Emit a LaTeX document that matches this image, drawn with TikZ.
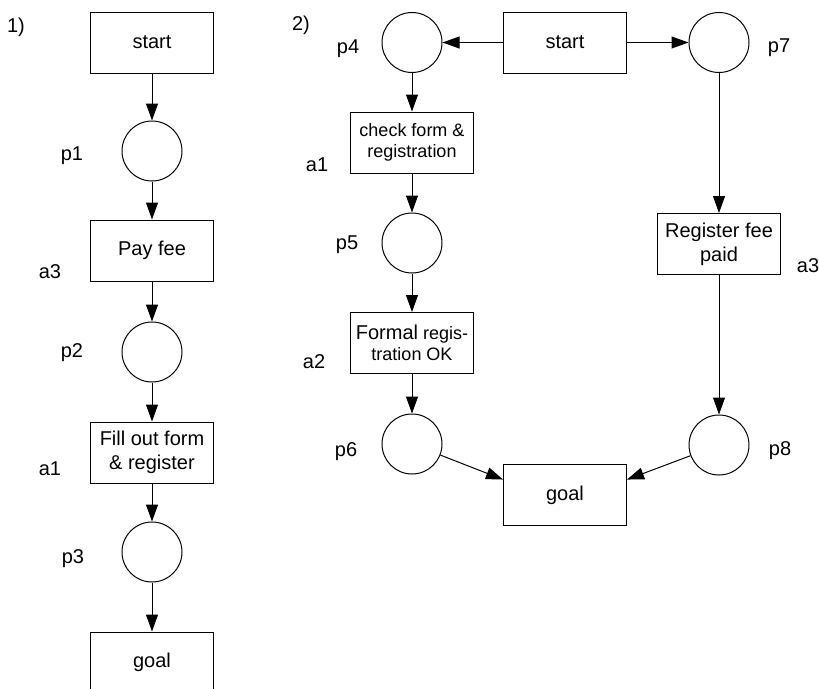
\documentclass[tikz,border=0pt]{standalone}
\usepackage{fontspec}
\setmainfont{Liberation Sans}
\usetikzlibrary{arrows.meta}
\begin{document}
\begin{tikzpicture}[x=1pt,y=-1pt,
  every node/.style={font=\fontsize{20}{24}\selectfont},
  trans/.style={draw,rectangle,minimum width=123pt,minimum height=61pt,
    inner sep=0pt,align=center,line width=1pt},
  small/.style={font=\fontsize{18}{21}\selectfont},
  place/.style={draw,circle,minimum size=60pt,inner sep=0pt,line width=1pt},
  arc/.style={line width=1pt,-{Triangle[length=17pt,width=12pt]}},
  lbl/.style={inner sep=0pt}]
\path[use as bounding box] (0,0) rectangle (819,688);
\clip (0,0) rectangle (819,688);

% ---- net 1: sequential process ----
\node[lbl] (n1) at (16,27) {1)};
\node[trans] (s1) at (152,42.5) {start};
\node[place] (p1) at (152,151) {};
\node[trans] (t3) at (152,250.5) {Pay fee};
\node[place] (p2) at (152,352) {};
\node[trans] (t1) at (152,452.5) {Fill out form\\\& register};
\node[place] (p3) at (152,552) {};
\node[trans] (g1) at (152,662.5) {goal};

\node[lbl] (lp1) at (72,156) {p1};
\node[lbl] (la3) at (50,272) {a3};
\node[lbl] (lp2) at (72,353) {p2};
\node[lbl] (la1) at (50,469) {a1};
\node[lbl] (lp3) at (73,559) {p3};

\draw[arc] (s1) -- (p1);
\draw[arc] (p1) -- (t3);
\draw[arc] (t3) -- (p2);
\draw[arc] (p2) -- (t1);
\draw[arc] (t1) -- (p3);
\draw[arc] (p3) -- (g1);

% ---- net 2: parallel process ----
\node[lbl] (n2) at (301,25) {2)};
\node[trans] (s2) at (565,42.5) {start};
\node[place] (p4) at (412,42.5) {};
\node[place] (p7) at (719,42.5) {};
\node[trans,small] (u1) at (412,142.5) {check form \&\\registration};
\node[place] (p5) at (412,243) {};
\node[trans,small] (u2) at (412,343) {{\fontsize{20}{21}\selectfont Formal} regis-\\tration OK};
\node[place] (p6) at (412,444) {};
\node[trans] (u3) at (719,244) {Register fee\\paid};
\node[place] (p8) at (719,445) {};
\node[trans] (g2) at (565,495) {goal};

\node[lbl] (lp4) at (348,49) {p4};
\node[lbl] (lp7) at (779,48) {p7};
\node[lbl] (lu1) at (317,165) {a1};
\node[lbl] (lp5) at (347,245) {p5};
\node[lbl] (lu3) at (808,266) {a3};
\node[lbl] (lu2) at (314,362) {a2};
\node[lbl] (lp6) at (346,452) {p6};
\node[lbl] (lp8) at (780,451) {p8};

\draw[arc] (s2) -- (p4);
\draw[arc] (s2) -- (p7);
\draw[arc] (p4) -- (u1);
\draw[arc] (u1) -- (p5);
\draw[arc] (p5) -- (u2);
\draw[arc] (u2) -- (p6);
\draw[arc] (p7) -- (u3);
\draw[arc] (u3) -- (p8);
\draw[arc] (p6) -- (g2.166);
\draw[arc] (p8) -- (g2.14);
\end{tikzpicture}
\end{document}
